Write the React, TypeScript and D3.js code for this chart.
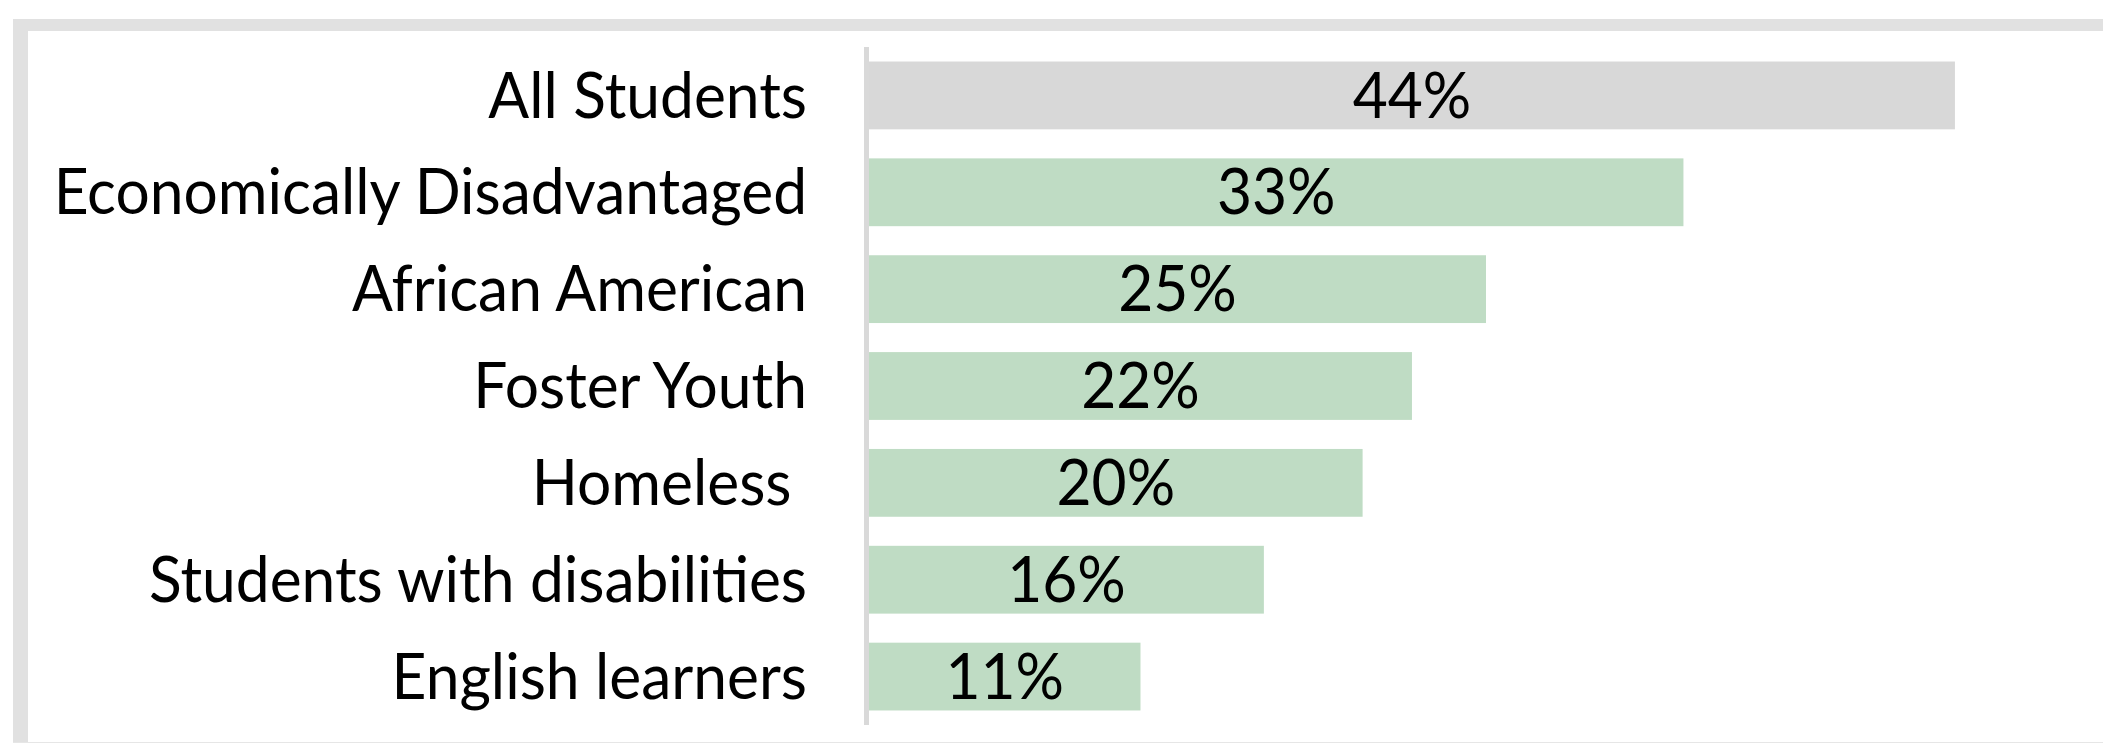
import React from "react";
import * as d3 from "d3";

const categories: string[] = [
  "All Students",
  "Economically Disadvantaged",
  "African American",
  "Foster Youth",
  "Homeless ",
  "Students with disabilities",
  "English learners",
];
const values: number[] = [44, 33, 25, 22, 20, 16, 11];
const valueLabels: string[] = ["44%", "33%", "25%", "22%", "20%", "16%", "11%"];
const highlight: boolean[] = [true, false, false, false, false, false, false];

const W = 2103;
const H = 743;
const FONT = "Lato, 'Open Sans', sans-serif";
const FS = 64;
const SX = 0.945;

export default function App() {
  const x = d3.scaleLinear().domain([0, 50]).range([869, 2103]);
  const y = d3
    .scaleBand<string>()
    .domain(categories)
    .range([47, 725])
    .paddingInner(0.3)
    .paddingOuter(0.15);

  return (
    <div style={{ position: "absolute", left: 0, top: 0 }}>
      <svg width={W} height={H} style={{ display: "block", background: "#fff" }}>
        {/* frame */}
        <rect x={13} y={19} width={W - 13} height={12} fill="#e1e1e1" />
        <rect x={13} y={19} width={15} height={H - 19} fill="#e1e1e1" />
        <rect x={13} y={742} width={W - 13} height={1} fill="#e6e6e6" />

        {categories.map((c, i) => {
          const y0 = y(c)!;
          const bw = y.bandwidth();
          const x0 = x(0);
          const x1 = x(values[i]);
          const cy = y0 + bw / 2;
          return (
            <g key={c}>
              <rect
                x={x0}
                y={y0}
                width={x1 - x0}
                height={bw}
                fill={highlight[i] ? "#d8d8d8" : "#bfdcc4"}
              />
              <text
                transform={`translate(${(x0 + x1) / 2},${cy}) scale(${SX},1)`}
                dy="0.345em"
                textAnchor="middle"
                fontFamily={FONT}
                fontSize={FS}
                fill="#000"
              >
                {valueLabels[i]}
              </text>
              <text
                transform={`translate(807,${cy}) scale(${SX},1)`}
                dy="0.345em"
                textAnchor="end"
                fontFamily={FONT}
                fontSize={FS}
                fill="#000"
                style={{ whiteSpace: "pre" }}
              >
                {c}
              </text>
            </g>
          );
        })}

        {/* axis line */}
        <rect x={864} y={47} width={5} height={725 - 47} fill="#d9d9d9" />
      </svg>
    </div>
  );
}
